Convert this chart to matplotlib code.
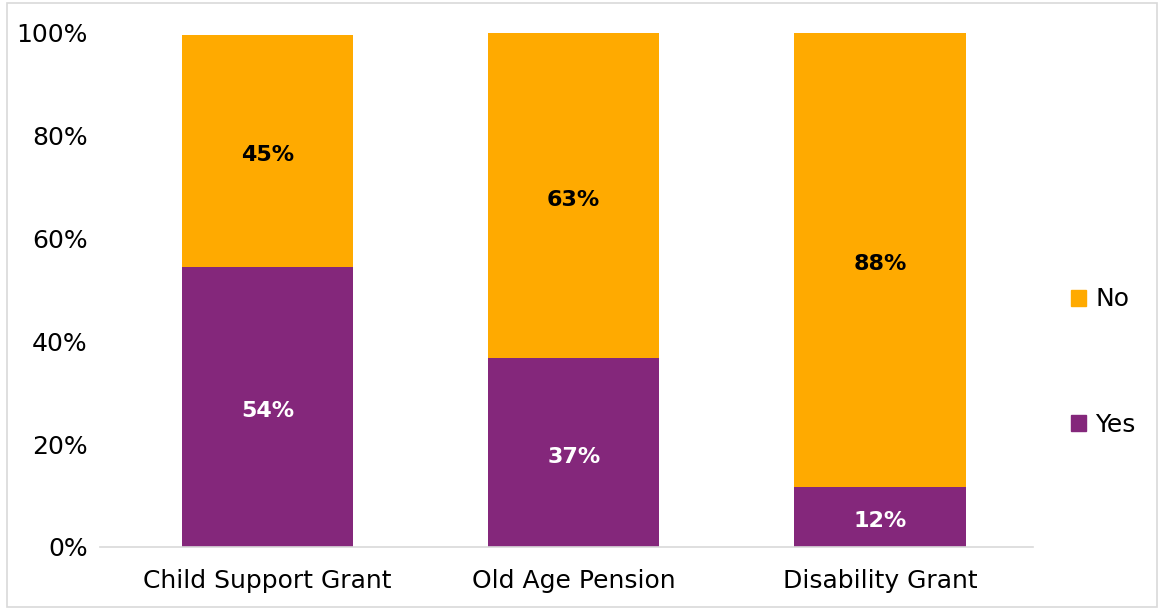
import matplotlib
matplotlib.use("Agg")
import matplotlib.pyplot as plt
from matplotlib.patches import Patch, Rectangle

categories = ["Child Support Grant", "Old Age Pension", "Disability Grant"]
yes_vals = [54.4, 36.8, 11.6]
no_vals = [45.3, 63.2, 88.4]

orange = "#FFAA00"
purple = "#84277B"

plt.rcParams['font.family'] = ['DejaVu Sans']

fig = plt.figure(figsize=(11.58, 6.09), dpi=100)
ax = fig.add_axes([100 / 1158, (609 - 547) / 609, (1033 - 100) / 1158, (547 - 33) / 609])

x = list(range(len(categories)))
width = 0.56
ax.bar(x, yes_vals, width, color=purple, label="Yes")
ax.bar(x, no_vals, width, bottom=yes_vals, color=orange, label="No")

for i in range(len(categories)):
    ax.text(x[i], yes_vals[i] / 2 - 0.8, "%.0f%%" % yes_vals[i], ha="center", va="center",
            color="white", fontsize=16, fontweight="bold")
    ax.text(x[i], yes_vals[i] + no_vals[i] / 2 - 0.8, "%.0f%%" % no_vals[i], ha="center", va="center",
            color="black", fontsize=16, fontweight="bold")

ax.set_xlim(-0.547, 2.5)
ax.set_ylim(0, 100)
ax.set_yticks([0, 20, 40, 60, 80, 100])
ax.set_yticklabels(["0%", "20%", "40%", "60%", "80%", "100%"], fontsize=18)
ax.set_xticks(x)
ax.set_xticklabels(categories, fontsize=18)
ax.tick_params(axis="x", length=0, pad=16)
ax.tick_params(axis="y", length=0, pad=9)
for s in ["top", "right", "left"]:
    ax.spines[s].set_visible(False)
ax.spines["bottom"].set_color("#D9D9D9")
ax.spines["bottom"].set_linewidth(1.2)

handles = [Patch(color=orange, label="No"), Patch(color=purple, label="Yes")]
fig.legend(handles=handles, loc="center left", bbox_to_anchor=(1048 / 1158, 1 - 362 / 609),
           frameon=False, fontsize=18, handlelength=0.6, handleheight=0.6,
           handletextpad=0.4, labelspacing=4.05)

fig.patches.append(Rectangle((7 / 1158, 0.003), 1 - 8 / 1158, 1 - 3 / 609 - 0.003,
                             transform=fig.transFigure, fill=False,
                             edgecolor="#D9D9D9", linewidth=1.2))

fig.savefig("out.png", dpi=100)
